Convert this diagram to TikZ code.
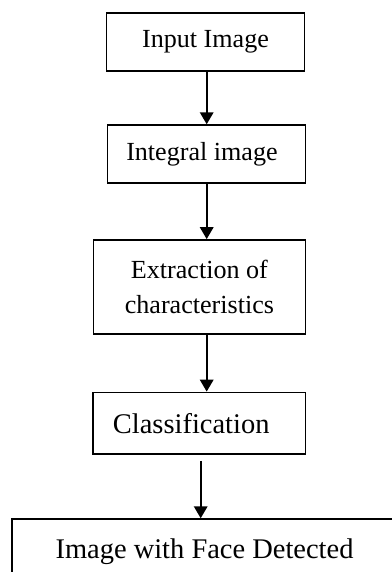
\documentclass[tikz,border=0pt]{standalone}
\usepackage{fontspec}
\setmainfont{Liberation Serif}
\usetikzlibrary{arrows.meta}

\begin{document}
\begin{tikzpicture}[x=0.02cm, y=-0.02cm,
        box/.style={draw, line width=0.85pt, inner sep=0pt, align=center},
        flow/.style={line width=1.1pt, -{Triangle[length=0.24cm, width=0.27cm]}}]
        \useasboundingbox (0,0) rectangle (392,572);

        % --- Draw the steps ---
        \node[box, minimum width=3.96cm, minimum height=1.16cm, font=\fontsize{14.85}{18}\selectfont] (input) at (205.5,42) {Input Image};
        \node[box, minimum width=3.96cm, minimum height=1.16cm, font=\fontsize{14.85}{18}\selectfont] (integral) at (206.7,154) {Integral image\hspace*{0.19cm}};
        \node[box, minimum width=4.24cm, minimum height=1.886cm, font=\fontsize{14.85}{19.9}\selectfont] (extract) at (199.4,287) {Extraction of\\characteristics};
        \node[box, minimum width=4.25cm, minimum height=1.234cm, font=\fontsize{16.2}{19}\selectfont] (classify) at (199.2,423.2) {Classification\hspace*{0.32cm}};
        \node[box, minimum width=7.7cm, minimum height=1.3cm, font=\fontsize{16.2}{19}\selectfont] (result) at (204.5,551.5) {Image with Face Detected};
        % ---

        % --- Draw the arrows ---
        \draw[flow] (integral.north |- input.south) -- (integral.north);
        \draw[flow] (integral.south) -- (integral.south |- extract.north);
        \draw[flow] (integral.south |- extract.south) -- (integral.south |- classify.north);
        \coordinate (gap) at ([shift={(1.5,6)}]classify.south);
        \draw[flow] (gap) -- (gap |- result.north);
        % ---
    \end{tikzpicture}
\end{document}
